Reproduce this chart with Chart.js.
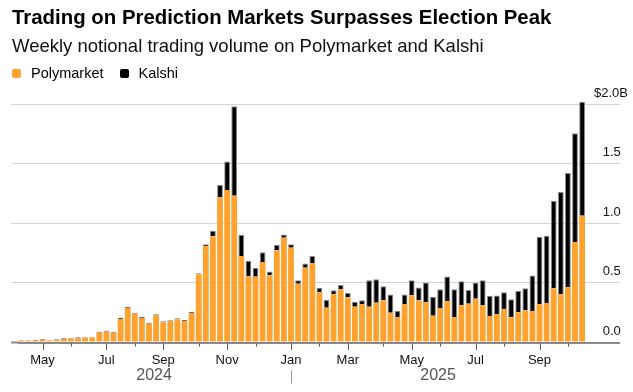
<!DOCTYPE html>
<html>
<head>
<meta charset="utf-8">
<script src="https://cdn.jsdelivr.net/npm/chart.js@4.4.1/dist/chart.umd.min.js"></script>
<style>
	body { margin: 0; background: #fff; }
	#wrap { position: relative; width: 633px; height: 392px; font-family: 'Liberation Sans', Arial, sans-serif; color: #000; }
	#c { position: absolute; left: 0; top: 0; }
	.title { position: absolute; left: 12px; top: 5px; font-size: 20.4px; line-height: 24px; font-weight: bold; white-space: nowrap; }
	.sub { position: absolute; left: 12px; top: 35px; font-size: 18.5px; line-height: 22px; white-space: nowrap; color: #111; }
	.legend { position: absolute; left: 12px; top: 64px; font-size: 14.5px; line-height: 18px; white-space: nowrap; }
	.legend span { display: inline-block; vertical-align: top; }
	.sw { width: 9px; height: 9px; border-radius: 2px; margin-top: 5px; margin-right: 10px; }
</style>
</head>
<body>
<div id="wrap">
	<canvas id="c" width="633" height="392"></canvas>
	<div class="title">Trading on Prediction Markets Surpasses Election Peak</div>
	<div class="sub">Weekly notional trading volume on Polymarket and Kalshi</div>
	<div class="legend">
		<span class="sw" style="background:#ffa22f"></span><span>Polymarket</span>
		<span class="sw" style="background:#000;margin-left:12px"></span><span>Kalshi</span>
	</div>
</div>
<script>

// week starting (Sunday)
const weeks = [
	'2024-04-14','2024-04-21','2024-04-28',
	'2024-05-05','2024-05-12','2024-05-19','2024-05-26',
	'2024-06-02','2024-06-09','2024-06-16','2024-06-23','2024-06-30',
	'2024-07-07','2024-07-14','2024-07-21','2024-07-28',
	'2024-08-04','2024-08-11','2024-08-18','2024-08-25',
	'2024-09-01','2024-09-08','2024-09-15','2024-09-22','2024-09-29',
	'2024-10-06','2024-10-13','2024-10-20','2024-10-27',
	'2024-11-03','2024-11-10','2024-11-17','2024-11-24',
	'2024-12-01','2024-12-08','2024-12-15','2024-12-22','2024-12-29',
	'2025-01-05','2025-01-12','2025-01-19','2025-01-26',
	'2025-02-02','2025-02-09','2025-02-16','2025-02-23',
	'2025-03-02','2025-03-09','2025-03-16','2025-03-23','2025-03-30',
	'2025-04-06','2025-04-13','2025-04-20','2025-04-27',
	'2025-05-04','2025-05-11','2025-05-18','2025-05-25',
	'2025-06-01','2025-06-08','2025-06-15','2025-06-22','2025-06-29',
	'2025-07-06','2025-07-13','2025-07-20','2025-07-27',
	'2025-08-03','2025-08-10','2025-08-17','2025-08-24','2025-08-31',
	'2025-09-07','2025-09-14','2025-09-21','2025-09-28',
	'2025-10-05','2025-10-12','2025-10-19'
];

// $ billions
const polymarket = [
	0.016, 0.016, 0.015,
	0.023, 0.017, 0.020, 0.030,
	0.034, 0.036, 0.041, 0.042, 0.082,
	0.090, 0.082, 0.198, 0.290,
	0.241, 0.206, 0.157, 0.229,
	0.170, 0.179, 0.195, 0.180, 0.247,
	0.572, 0.809, 0.890, 1.216,
	1.278, 1.231, 0.725, 0.554,
	0.552, 0.675, 0.563, 0.772, 0.879,
	0.795, 0.493, 0.627, 0.663,
	0.420, 0.292, 0.405, 0.447,
	0.377, 0.299, 0.322, 0.299, 0.333,
	0.355, 0.249, 0.210, 0.322,
	0.394, 0.352, 0.338, 0.224,
	0.286, 0.347, 0.213, 0.311, 0.325,
	0.366, 0.311, 0.223, 0.237,
	0.279, 0.211, 0.254, 0.268, 0.265,
	0.321, 0.332, 0.455, 0.405,
	0.464, 0.842, 1.063
];

const kalshi = [
	0.006, 0.006, 0.007,
	0.007, 0.005, 0.008, 0.006,
	0.006, 0.009, 0.007, 0.006, 0.008,
	0.008, 0.008, 0.009, 0.009,
	0.009, 0.009, 0.008, 0.008,
	0.009, 0.008, 0.009, 0.010, 0.010,
	0.008, 0.014, 0.047, 0.104,
	0.240, 0.751, 0.179, 0.132,
	0.075, 0.081, 0.033, 0.048, 0.027,
	0.028, 0.028, 0.036, 0.062,
	0.040, 0.067, 0.034, 0.036,
	0.039, 0.042, 0.033, 0.223, 0.198,
	0.117, 0.154, 0.056, 0.081,
	0.128, 0.109, 0.165, 0.159,
	0.161, 0.206, 0.234, 0.203, 0.116,
	0.137, 0.211, 0.168, 0.157,
	0.143, 0.152, 0.179, 0.187, 0.297,
	0.566, 0.563, 0.734, 0.857,
	0.958, 0.913, 0.955
];

const monthNames = [ 'Jan', 'Feb', 'Mar', 'Apr', 'May', 'Jun', 'Jul', 'Aug', 'Sep', 'Oct', 'Nov', 'Dec' ];
const labelledMonths = [ 'Jan', 'Mar', 'May', 'Jul', 'Sep', 'Nov' ];
const years = [ '2024', '2025' ];
const yLabels = [ '0.0', '0.5', '1.0', '1.5', '$2.0B' ];

const ORANGE = '#ffa22f';
const GRID = '#d4d4d4';
const AXIS = '#8a8a8a';

Chart.defaults.font.family = "'Liberation Sans', Arial, sans-serif";

const monthStart = w => +w.slice( 8 ) <= 7;
const monthOf = w => monthNames[ +w.slice( 5, 7 ) - 1 ];

const gridColor = c => c.tick && c.tick.value === 0 ? AXIS : GRID;
const gridWidth = c => c.tick && c.tick.value === 0 ? 2 : 1;

// month ticks, year labels and the year divider under the x axis
const axisExtras = {
	id: 'axisExtras',
	afterDraw( chart ) {
		const { ctx, chartArea } = chart;
		const x = chart.scales.x;
		const base = chartArea.bottom;
		ctx.save();
		ctx.strokeStyle = '#555';
		ctx.lineWidth = 1;
		weeks.forEach( ( w, i ) => {
			if ( !monthStart( w ) )
				return;
			const px = Math.round( x.getPixelForValue( i ) ) + 0.5;
			const major = labelledMonths.includes( monthOf( w ) );
			ctx.beginPath();
			ctx.moveTo( px, base + 1 );
			ctx.lineTo( px, base + ( major ? 7.5 : 4 ) );
			ctx.stroke();
		} );

		ctx.font = "16px 'Liberation Sans', Arial, sans-serif";
		ctx.fillStyle = '#555';
		ctx.textAlign = 'center';
		ctx.textBaseline = 'middle';
		years.forEach( ( y, k ) => {
			const idx = weeks.map( ( w, i ) => w.startsWith( y ) ? i : -1 ).filter( i => i >= 0 );
			const a = x.getPixelForValue( idx[0] );
			const b = x.getPixelForValue( idx[ idx.length - 1 ] );
			ctx.fillText( y, ( a + b ) / 2 + 1.5, base + 33 );
			if ( k > 0 ) {
				const px = Math.round( a ) + 0.5;
				ctx.strokeStyle = '#999';
				ctx.beginPath();
				ctx.moveTo( px, base + 28 );
				ctx.lineTo( px, base + 41 );
				ctx.stroke();
			}
		} );
		ctx.restore();
	}
};

new Chart( 'c', {
	type: 'bar',
	data: {
		labels: weeks,
		datasets: [{
			label: 'Polymarket',
			data: polymarket,
			backgroundColor: ORANGE,
			borderWidth: 0,
			barPercentage: 0.82,
			categoryPercentage: 1,
			clip: false
		}, {
			label: 'Kalshi',
			data: kalshi,
			backgroundColor: '#000',
			borderColor: '#8c8c8c',
			borderWidth: 1,
			borderSkipped: 'bottom',
			barPercentage: 0.82,
			categoryPercentage: 1,
			clip: false
		}]
	},
	options: {
		responsive: false,
		animation: false,
		events: [],
		layout: {
			padding: { top: 104, left: 11, right: 5, bottom: 0 }
		},
		plugins: {
			legend: { display: false },
			tooltip: { enabled: false }
		},
		scales: {
			x: {
				stacked: true,
				grid: { display: false },
				border: { display: false },
				ticks: {
					autoSkip: false,
					maxRotation: 0,
					padding: 2,
					color: '#111',
					font: { size: 13 },
					callback: ( v, i ) => {
						const w = weeks[i];
						return monthStart( w ) && labelledMonths.includes( monthOf( w ) ) ? monthOf( w ) : '';
					}
				},
				afterFit( s ) {
					s.height = 49.5;
					s.paddingLeft = 0;
					s.paddingRight = 0;
				}
			},
			y: {
				position: 'right',
				stacked: true,
				min: 0,
				max: 2,
				ticks: {
					stepSize: 0.5,
					crossAlign: 'far',
					padding: 0,
					labelOffset: -11,
					color: '#111',
					font: { size: 13 },
					callback: ( v, i ) => i === yLabels.length - 1 ? yLabels[i] : yLabels[i] + '  '
				},
				grid: {
					color: gridColor,
					lineWidth: gridWidth,
					tickColor: gridColor,
					tickWidth: gridWidth,
					tickLength: 34.35
				},
				border: { display: false },
				afterFit( s ) {
					s.width = 42.35;
					s.paddingTop = 0;
					s.paddingBottom = 0;
				}
			},
			yl: {
				position: 'left',
				min: 0,
				max: 2,
				ticks: { display: false, stepSize: 0.5 },
				grid: {
					drawOnChartArea: false,
					tickColor: gridColor,
					tickWidth: gridWidth,
					tickLength: 6.65
				},
				border: { display: false },
				afterFit( s ) {
					s.width = 6.65;
					s.paddingTop = 0;
					s.paddingBottom = 0;
				}
			}
		}
	},
	plugins: [ axisExtras ]
} );

</script>
</body>
</html>
